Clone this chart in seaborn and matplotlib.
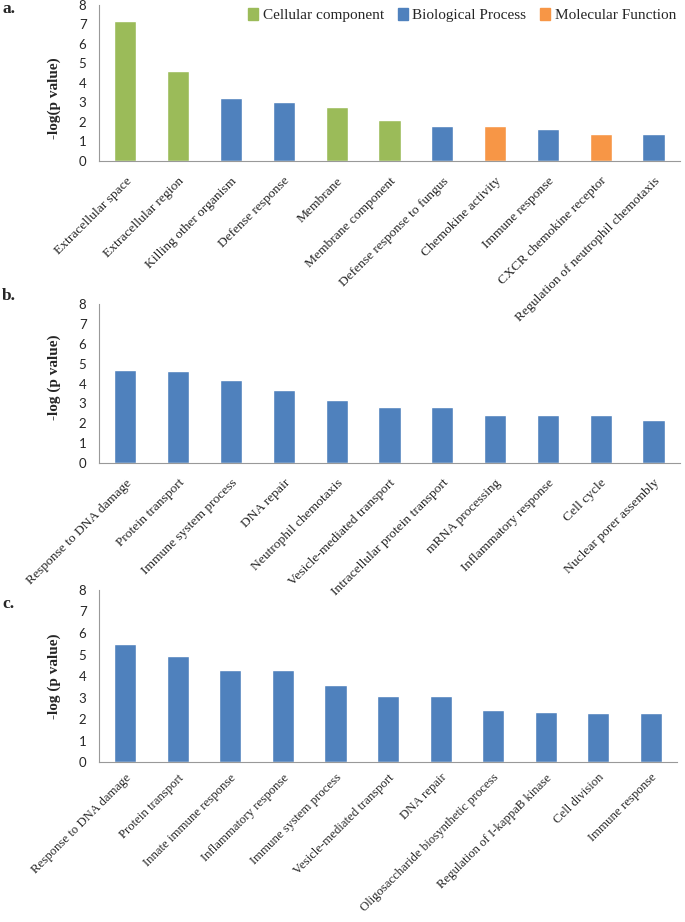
import numpy as np
import pandas as pd
import matplotlib.pyplot as plt
import seaborn as sns
from matplotlib.patches import Patch

sns.set_theme(style="white")
plt.rcParams['font.family'] = ['Liberation Serif', 'DejaVu Serif']

# panel a
terms_a = ["Extracellular space", "Extracellular region", "Killing other organism",
           "Defense response", "Membrane", "Membrane component", "Defense response to fungus",
           "Chemokine activity", "Immune response", "CXCR chemokine receptor",
           "Regulation of neutrophil chemotaxis"]
vals_a = [7.2, 4.6, 3.22, 3.05, 2.77, 2.1, 1.8, 1.78, 1.66, 1.37, 1.36]
group_a = ["Cellular component", "Cellular component", "Biological Process",
           "Biological Process", "Cellular component", "Cellular component",
           "Biological Process", "Molecular Function", "Biological Process",
           "Molecular Function", "Biological Process"]

# panel b
terms_b = ["Response to DNA damage", "Protein transport", "Immune system process",
           "DNA repair", "Neutrophil chemotaxis", "Vesicle-mediated transport",
           "Intracellular protein transport", "mRNA processing", "Inflammatory response",
           "Cell cycle", "Nuclear porer assembly"]
vals_b = [4.68, 4.65, 4.18, 3.65, 3.17, 2.83, 2.83, 2.42, 2.42, 2.42, 2.15]

# panel c
terms_c = ["Response to DNA damage", "Protein transport", "Innate immune response",
           "Inflammatory response", "Immune system process", "Vesicle-mediated transport",
           "DNA repair", "Oligosaccharide biosynthetic process", "Regulation of I-kappaB kinase",
           "Cell division", "Immune response"]
vals_c = [5.48, 4.95, 4.28, 4.27, 3.58, 3.08, 3.08, 2.41, 2.32, 2.29, 2.29]

palette = {"Cellular component": "#9BBB59", "Biological Process": "#4F81BD",
           "Molecular Function": "#F79646"}

fig = plt.figure(figsize=(6.85, 9.22), dpi=100)
ax_a = fig.add_axes([0.1445, 0.8254, 0.848, 0.1692])
ax_b = fig.add_axes([0.1445, 0.4978, 0.848, 0.1725])
ax_c = fig.add_axes([0.1445, 0.1735, 0.844, 0.1866])
ax_a.set_zorder(3)
ax_b.set_zorder(2)
for ax in (ax_a, ax_b, ax_c):
    ax.patch.set_visible(False)


def style_axis(ax, terms, ylabel, label_y, pad, fs=9.7):
    ax.set_ylim(0, 8)
    ax.set_yticks(range(0, 9))
    ax.set_xlim(-0.5, len(terms) - 0.5)
    ax.set_xticks(range(len(terms)))
    ax.set_xticklabels(terms, rotation=45, ha='right', rotation_mode='anchor',
                       fontsize=fs, family='Liberation Serif')
    ax.set_xticks(np.arange(-0.5, len(terms), 1), minor=True)
    ax.tick_params(axis='x', which='major', length=0, pad=pad)
    ax.tick_params(axis='x', which='minor', length=4, color='#999999', direction='out')
    ax.tick_params(axis='y', length=4, color='#999999', direction='out', pad=5)
    for lab in ax.get_yticklabels():
        lab.set_fontsize(9.5)
        lab.set_family('Lato')
    ax.set_ylabel(ylabel, fontsize=11, fontweight='bold')
    ax.yaxis.set_label_coords(-0.066, label_y)
    ax.set_xlabel("")
    for s in ['top', 'right']:
        ax.spines[s].set_visible(False)
    for s in ['left', 'bottom']:
        ax.spines[s].set_color('#999999')
        ax.spines[s].set_linewidth(0.8)


df_a = pd.DataFrame({"term": terms_a, "val": vals_a, "group": group_a})
sns.barplot(data=df_a, x="term", y="val", hue="group", palette=palette, dodge=False,
            width=0.42, saturation=1, ax=ax_a, legend=False)
style_axis(ax_a, terms_a, "-log(p value)", 0.40, 10)
handles = [Patch(color=palette[g]) for g in palette]
ax_a.legend(handles, list(palette), loc='upper right', bbox_to_anchor=(1.017, 1.07), ncol=3,
            frameon=False, fontsize=11, handlelength=0.65, handleheight=0.9,
            handletextpad=0.3, columnspacing=0.9)

sns.barplot(x=terms_b, y=vals_b, color="#4F81BD", width=0.42, saturation=1, ax=ax_b)
style_axis(ax_b, terms_b, "-log (p value)", 0.54, 10)

sns.barplot(x=terms_c, y=vals_c, color="#4F81BD", width=0.42, saturation=1, ax=ax_c)
style_axis(ax_c, terms_c, "-log (p value)", 0.5, 7, fs=9.2)

fig.text(0.003, 0.986, "a.", fontsize=12.5, fontweight='bold')
fig.text(0.003, 0.675, "b.", fontsize=12.5, fontweight='bold')
fig.text(0.003, 0.3405, "c.", fontsize=12.5, fontweight='bold')

fig.savefig("out.png", dpi=100)
